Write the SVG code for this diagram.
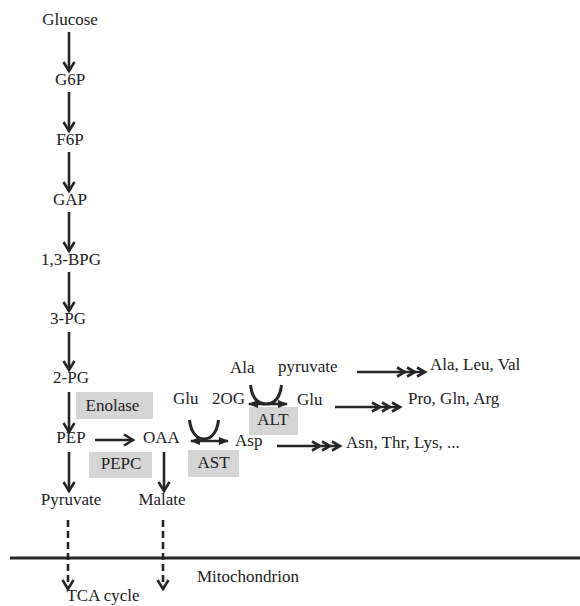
<svg xmlns="http://www.w3.org/2000/svg" xmlns:xlink="http://www.w3.org/1999/xlink" width="580" height="606" viewBox="0 0 580 606">
<style>
text{font-family:"Liberation Serif","DejaVu Serif","Noto Serif","Times New Roman",Times,serif;font-size:17px;fill:#222}
.m{text-anchor:middle}
.ln{stroke:#262626;stroke-width:2.6;fill:none}
.dash{stroke-dasharray:7 4}
.box{fill:#d5d5d5}
.cv{stroke:#262626;stroke-width:2.6;fill:none;stroke-linejoin:miter}
.u{stroke:#262626;stroke-width:3;fill:none}
</style>
<defs>
<marker id="ah" viewBox="0 0 14 14" refX="11" refY="7" markerWidth="14" markerHeight="14" markerUnits="userSpaceOnUse" orient="auto">
<path d="M2,1.5 L11,7 L2,12.5" fill="none" stroke="#262626" stroke-width="2.6"/>
</marker>
<marker id="tri" viewBox="0 0 10 8" refX="9" refY="4" markerWidth="10" markerHeight="8" markerUnits="userSpaceOnUse" orient="auto-start-reverse">
<path d="M0,0 L10,4 L0,8 z" fill="#262626"/>
</marker>
<path id="chev" d="M-8,-4.5 L0,0 L-8,4.5" class="cv"/>
</defs>

<rect width="580" height="606" fill="#fff"/>

<g id="boxes">
<g id="enolase"><rect class="box" x="76" y="392" width="77" height="27"/><text class="m" x="112.5" y="411" font-family="Liberation Serif, serif">Enolase</text></g>
<g id="pepc"><rect class="box" x="89" y="452" width="63" height="26"/><text class="m" x="121" y="469">PEPC</text></g>
<g id="ast"><rect class="box" x="188" y="450" width="51" height="27"/><text class="m" x="213.5" y="468">AST</text></g>
<g id="alt"><rect class="box" x="249" y="407" width="49" height="28"/><text class="m" x="273" y="425">ALT</text></g>
</g>

<g id="connectors">
<line class="ln" x1="69" y1="32" x2="69" y2="71" marker-end="url(#ah)"/>
<line class="ln" x1="69" y1="92" x2="69" y2="131" marker-end="url(#ah)"/>
<line class="ln" x1="69" y1="152" x2="69" y2="191" marker-end="url(#ah)"/>
<line class="ln" x1="69" y1="212" x2="69" y2="251" marker-end="url(#ah)"/>
<line class="ln" x1="69" y1="272" x2="69" y2="311" marker-end="url(#ah)"/>
<line class="ln" x1="69" y1="332" x2="69" y2="370" marker-end="url(#ah)"/>
<line class="ln" x1="69" y1="392" x2="69" y2="432" marker-end="url(#ah)"/>
<line class="ln" x1="69" y1="452" x2="69" y2="491" marker-end="url(#ah)"/>
<line class="ln" x1="164" y1="452" x2="164" y2="491" marker-end="url(#ah)"/>
<line class="ln" x1="95" y1="440" x2="133" y2="440" marker-end="url(#ah)"/>
<line class="ln dash" x1="68" y1="520" x2="68" y2="589" marker-end="url(#ah)"/>
<line class="ln dash" x1="163" y1="520" x2="163" y2="589" marker-end="url(#ah)"/>
<path class="u" d="M189.5,420 C191,433 197,439 204,439 C211,439 217,433 218.5,420"/>
<line class="ln" x1="191" y1="441" x2="228" y2="441" marker-start="url(#tri)" marker-end="url(#tri)" stroke-width="2.2"/>
<path class="u" d="M250.5,385 C252,398 258,404 266,404 C274,404 280,398 281.5,385"/>
<line class="ln" x1="249" y1="404" x2="287" y2="404" marker-start="url(#tri)" marker-end="url(#tri)" stroke-width="2.2"/>
<line class="ln" x1="357" y1="372" x2="424" y2="372"/>
<use xlink:href="#chev" x="405" y="372"/><use xlink:href="#chev" x="415" y="372"/><use xlink:href="#chev" x="425" y="372"/>
<line class="ln" x1="335" y1="407" x2="399" y2="407"/>
<use xlink:href="#chev" x="380" y="407"/><use xlink:href="#chev" x="390" y="407"/><use xlink:href="#chev" x="400" y="407"/>
<line class="ln" x1="277" y1="446" x2="339" y2="446"/>
<use xlink:href="#chev" x="320" y="446"/><use xlink:href="#chev" x="330" y="446"/><use xlink:href="#chev" x="340" y="446"/>
</g>

<g id="membrane"><line x1="10" y1="558" x2="580" y2="558" stroke="#262626" stroke-width="3"/></g>

<g id="nodes">
<g id="glucose"><text class="m" x="70" y="25">Glucose</text></g>
<g id="g6p"><text class="m" x="70" y="85">G6P</text></g>
<g id="f6p"><text class="m" x="70" y="145">F6P</text></g>
<g id="gap"><text class="m" x="70" y="205">GAP</text></g>
<g id="bpg"><text class="m" x="71" y="265">1,3-BPG</text></g>
<g id="pg3"><text class="m" x="68" y="324">3-PG</text></g>
<g id="pg2"><text class="m" x="71" y="383">2-PG</text></g>
<g id="pep"><text class="m" x="71" y="443">PEP</text></g>
<g id="oaa"><text x="143" y="443">OAA</text></g>
<g id="pyruvate"><text class="m" x="71" y="505">Pyruvate</text></g>
<g id="malate"><text class="m" x="162" y="505">Malate</text></g>
<g id="tca"><text class="m" x="103" y="601">TCA cycle</text></g>
<g id="mito"><text x="197" y="582">Mitochondrion</text></g>
<g id="glu1"><text x="173" y="404">Glu</text></g>
<g id="og"><text x="212" y="404">2OG</text></g>
<g id="ala"><text x="230" y="373">Ala</text></g>
<g id="pyr2"><text x="278" y="372">pyruvate</text></g>
<g id="glu2"><text x="297" y="405">Glu</text></g>
<g id="asp"><text x="235" y="446">Asp</text></g>
<g id="alv"><text x="430" y="370">Ala, Leu, Val</text></g>
<g id="pga"><text x="408" y="404">Pro, Gln, Arg</text></g>
<g id="atl"><text x="346" y="448">Asn, Thr, Lys, ...</text></g>
</g>
</svg>
